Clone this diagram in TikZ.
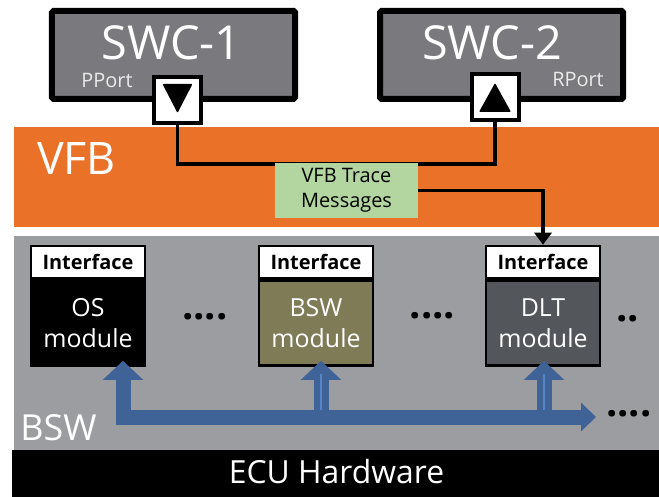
\documentclass[tikz,border=0pt]{standalone}
\usepackage{fontspec}
\setmainfont{Open Sans}
\usepackage{xcolor}
\usetikzlibrary{positioning,calc,arrows.meta}
\definecolor{swcgray}{HTML}{7A797E}
\definecolor{vfborange}{HTML}{E97228}
\definecolor{tracegreen}{HTML}{B3D59F}
\definecolor{bswgray}{HTML}{9B9DA1}
\definecolor{bswolive}{HTML}{807B57}
\definecolor{dltgray}{HTML}{53565A}
\definecolor{busblue}{HTML}{3F6396}
\definecolor{buslight}{HTML}{5585C6}

\begin{document}
\begin{tikzpicture}[x=1bp, y=-1bp, >=Stealth,
  band/.style={anchor=north west, inner sep=0pt, outer sep=0pt},
  layer/.style={anchor=base, text=white, inner sep=0pt},
  swc/.style={draw=black, line width=6bp, fill=swcgray, rounded corners=1.5bp,
              minimum width=243bp, minimum height=88bp, inner sep=0pt},
  swcname/.style={anchor=base, text=white, inner sep=0pt,
                  font=\fontsize{47}{50}\selectfont},
  portname/.style={anchor=base, text=white!92!black, inner sep=0pt,
                   font=\fontsize{20}{23}\selectfont},
  port/.style={draw=black, line width=4bp, fill=white,
               minimum width=47bp, minimum height=46bp, inner sep=0pt},
  iface/.style={draw=black, line width=2.5bp, fill=white, inner sep=0pt,
                minimum width=114bp, minimum height=32bp,
                font=\bfseries\fontsize{20}{24}\selectfont},
  modbody/.style={draw=black, line width=2.5bp, text=white, align=center,
                  minimum width=114bp, minimum height=85bp, inner sep=0pt,
                  font=\fontsize{25}{31}\selectfont},
  dots/.style={anchor=base, inner sep=0pt, font=\bfseries\fontsize{40}{40}\selectfont},
  wire/.style={draw=black, line width=3.5bp},
  bus/.style={draw=busblue, line width=15bp},
  glow/.style={draw=buslight, line width=2.5bp}]
  \useasboundingbox (0,0) rectangle (659,497);
  % --- layers
  \node[band, fill=vfborange, minimum width=645bp, minimum height=100bp] (vfb) at (14,127) {};
  \node[band, fill=bswgray, minimum width=645bp, minimum height=214bp] (bsw) at (14,236) {};
  \node[band, fill=black, minimum width=647bp, minimum height=47bp] (hw) at (12,450) {};
  \node[layer, font=\fontsize{45}{50}\selectfont] (vfbname) at (76.5,175) {VFB};
  \node[layer, font=\fontsize{36}{40}\selectfont] (bswname) at (58.5,440) {BSW};
  \node[layer, font=\fontsize{32}{36}\selectfont] (hwname) at (336.5,483) {ECU Hardware};
  % --- software components
  \node[swc] (swc1) at (173.5,55) {};
  \node[swc] (swc2) at (501.5,55) {};
  \node[swcname] (swc1name) at (171.5,60) {SWC-1};
  \node[swcname] (swc2name) at (492,60) {SWC-2};
  \node[portname] (pport) at (107,88) {PPort};
  \node[portname] (rport) at (578,87) {RPort};
  \node[port] (pp1) at (177.5,100) {};
  \node[port] (pp2) at (495,97.5) {};
  \fill[rounded corners=1bp] ([shift={(-15,-16)}]pp1.center) -- ++(30,0) -- ++(-15,29) -- cycle;
  \fill[rounded corners=1bp] ([shift={(-16,14.5)}]pp2.center) -- ++(32,0) -- ++(-16,-29) -- cycle;
  \draw[wire] (pp1.south) -- ++(0,39) -| (pp2.south);
  % --- trace box
  \node[fill=tracegreen, minimum width=143bp, minimum height=55bp, align=center,
        font=\fontsize{20}{25}\selectfont] (trace) at (346.5,190.5) {VFB Trace\\Messages};
  % --- BSW modules
  \node[iface] (osif)  at (88,262)  {Interface};
  \node[modbody, fill=black, below=0pt of osif] (osmod) {OS\\module};
  \node[iface] (bswif) at (316,262) {Interface};
  \node[modbody, fill=bswolive, below=0pt of bswif] (bswmod) {BSW\\module};
  \node[iface] (dltif) at (543,262) {Interface};
  \node[modbody, fill=dltgray, below=0pt of dltif] (dltmod) {DLT\\module};
  \draw[wire, -{Triangle[length=12bp,width=17bp]}] (trace.east) -| (dltif.north);
  \node[dots] (dots1) at (205,319) {....};
  \node[dots] (dots2) at (432.5,318) {....};
  \node[dots] (dots3) at (627.5,321) {..};
  \node[dots] (dots4) at (629,416) {....};
  % --- bus
  \coordinate (busend) at (596,417);
  \draw[bus, {Triangle[length=19bp,width=39bp]}-{Triangle[length=15bp,width=28bp]},
        shorten <=-6bp] ([xshift=35bp]osmod.south) |- (busend);
  \draw[bus, -{Triangle[length=19bp,width=39bp]}, shorten >=-6bp]
        ([xshift=5bp]bswmod.south |- busend) -- ([xshift=5bp]bswmod.south);
  \draw[bus, -{Triangle[length=19bp,width=39bp]}, shorten >=-6bp]
        ([xshift=1bp]dltmod.south |- busend) -- ([xshift=1bp]dltmod.south);
  \draw[glow] ([xshift=5bp,yshift=7bp]bswmod.south |- busend) -- ([xshift=5bp,yshift=-7bp]bswmod.south);
  \draw[glow] ([xshift=1bp,yshift=7bp]dltmod.south |- busend) -- ([xshift=1bp,yshift=-7bp]dltmod.south);
\end{tikzpicture}
\end{document}
